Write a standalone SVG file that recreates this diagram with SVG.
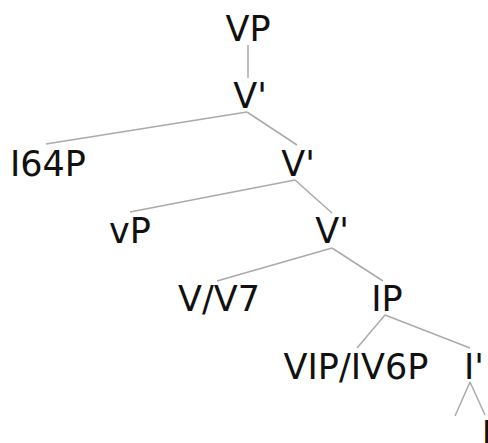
<svg xmlns="http://www.w3.org/2000/svg" width="488" height="443" viewBox="0 0 488 443">
<style>
text{font-family:"DejaVu Sans",sans-serif;font-size:35px;fill:#111;text-anchor:middle}
#edges line{stroke:#aaa;stroke-width:1.5}
</style>
<rect width="488" height="443" fill="#fff"/>
<g id="edges">
<line x1="248" y1="45" x2="248" y2="78"/>
<line x1="247" y1="112" x2="46" y2="144"/>
<line x1="247" y1="112" x2="297" y2="145"/>
<line x1="295" y1="180" x2="130" y2="212"/>
<line x1="295" y1="180" x2="332" y2="213"/>
<line x1="332" y1="248" x2="217" y2="281"/>
<line x1="332" y1="248" x2="383" y2="281"/>
<line x1="385" y1="315" x2="357" y2="348"/>
<line x1="385" y1="315" x2="470" y2="348"/>
<line x1="470" y1="382" x2="455" y2="416"/>
<line x1="470" y1="382" x2="485" y2="415"/>
</g>
<g id="n-vp"><text x="248" y="41">VP</text></g>
<g id="n-v1"><text x="250" y="108">V'</text></g>
<g id="n-i64p"><text x="48" y="176">I64P</text></g>
<g id="n-v2"><text x="298" y="176">V'</text></g>
<g id="n-vp2"><text x="130" y="243">vP</text></g>
<g id="n-v3"><text x="332" y="243">V'</text></g>
<g id="n-vv7"><text x="219" y="311">V/V7</text></g>
<g id="n-ip"><text x="387" y="311">IP</text></g>
<g id="n-vip"><text x="356" y="379">VIP/IV6P</text></g>
<g id="n-ibar"><text x="474" y="379">I'</text></g>
<g id="n-i"><text x="487" y="446">I</text></g>
</svg>
